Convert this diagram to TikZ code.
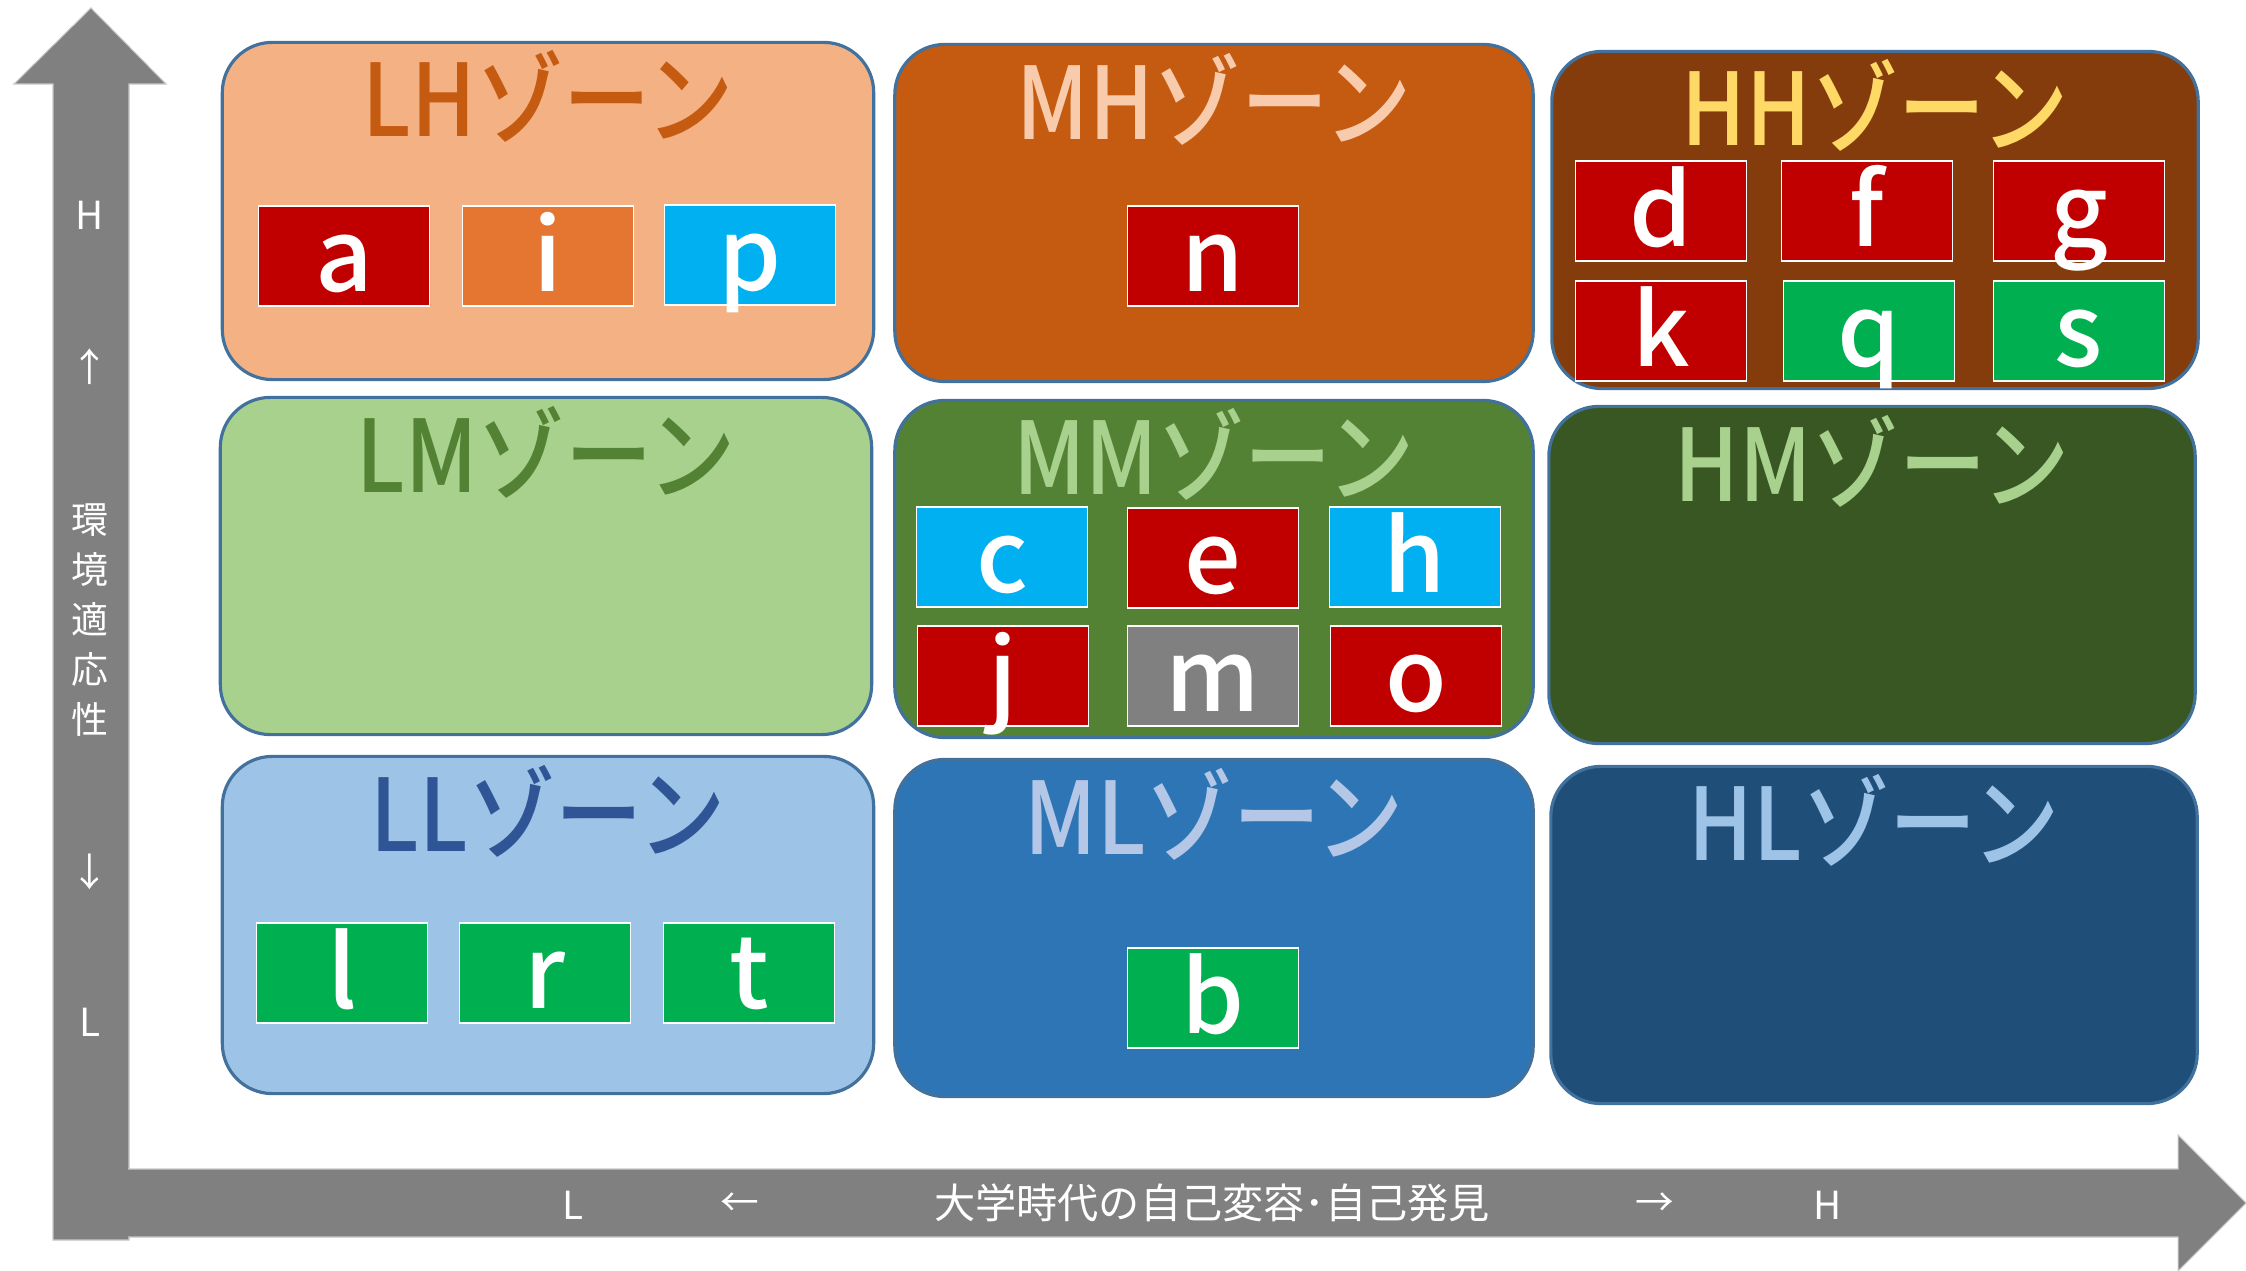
\documentclass[tikz,border=0pt]{standalone}
\usepackage{fontspec}
\setmainfont{Noto Sans CJK JP}
\newfontfamily\zonefont[FakeStretch=0.87]{Noto Sans CJK JP Medium}
\newfontfamily\itemfont{Noto Sans CJK JP Medium}
\usepackage{xcolor}
\usepackage{tikz}

\definecolor{axisgray}{HTML}{808080}
\definecolor{axisedge}{HTML}{C8C8C8}
\definecolor{zoneedge}{HTML}{41719C}
\definecolor{lhfill}{HTML}{F4B183}
\definecolor{lhtext}{HTML}{C55A11}
\definecolor{mhfill}{HTML}{C55A11}
\definecolor{mhtext}{HTML}{F8CBAD}
\definecolor{hhfill}{HTML}{843C0C}
\definecolor{hhtext}{HTML}{FFD966}
\definecolor{lmfill}{HTML}{A9D18E}
\definecolor{lmtext}{HTML}{548235}
\definecolor{mmfill}{HTML}{548235}
\definecolor{mmtext}{HTML}{A9D18E}
\definecolor{hmfill}{HTML}{385723}
\definecolor{hmtext}{HTML}{A9D18E}
\definecolor{llfill}{HTML}{9DC3E6}
\definecolor{lltext}{HTML}{2F5597}
\definecolor{mlfill}{HTML}{2E75B6}
\definecolor{mltext}{HTML}{B4C7E7}
\definecolor{hlfill}{HTML}{1F4E79}
\definecolor{hltext}{HTML}{9DC3E6}
\definecolor{itemred}{HTML}{C00000}
\definecolor{itemorange}{HTML}{E57631}
\definecolor{itemcyan}{HTML}{00B0F0}
\definecolor{itemgreen}{HTML}{00B050}
\definecolor{itemgray}{HTML}{808080}

\begin{document}
\begin{tikzpicture}[x=0.01cm, y=-0.01cm,
	zone/.style={draw=zoneedge, line width=0.9pt, rounded corners=0.5cm, minimum height=3.37cm},
	zonetitle/.style={anchor=base, inner sep=0pt, font=\zonefont\fontsize{28.5}{30}\selectfont},
	item/.style={draw=white, line width=0.5pt, minimum width=1.71cm, minimum height=1cm, inner sep=0pt,
		text height=0.85cm, text depth=0.15cm, text=white, font=\itemfont\fontsize{28.5}{30}\selectfont},
	axislabel/.style={text=white, inner sep=0pt, font=\fontsize{11}{13}\selectfont}]

\useasboundingbox (0,0) rectangle (2246,1271);

% axes
\filldraw[fill=axisgray, draw=axisedge, line width=0.3pt] (53,1240)--(53,84)--(14,84)--(91,8)--(166,84)--(129,84)--(129,1240)--cycle;
\filldraw[fill=axisgray, draw=axisedge, line width=0.3pt] (128,1169)--(2178,1169)--(2178,1135)--(2246,1203)--(2178,1271)--(2178,1237)--(128,1237);

\node[axislabel] (y-high) at (90,215) {H};
\node[axislabel] (y-up) at (90,367) {↑};
\node[axislabel, align=center, font=\fontsize{10.5}{14.2}\selectfont] (y-name) at (90,620) {環\\境\\適\\応\\性};
\node[axislabel] (y-down) at (90,872) {↓};
\node[axislabel] (y-low) at (90,1022) {L};

\node[axislabel] (x-low) at (573,1205) {L};
\node[axislabel] (x-left) at (740,1205) {←};
\node[axislabel, font=\fontsize{11.7}{13}\selectfont] (x-name) at (1212,1203) {大学時代の自己変容･自己発見};
\node[axislabel] (x-right) at (1655,1205) {→};
\node[axislabel] (x-high) at (1828,1205) {H};

% zones
\node[zone, fill=lhfill, minimum width=6.51cm] (lh) at (548,211) {};
\node[zone, fill=mhfill, minimum width=6.38cm] (mh) at (1214,213) {};
\node[zone, fill=hhfill, minimum width=6.46cm] (hh) at (1875,220) {};
\node[zone, fill=lmfill, minimum width=6.51cm] (lm) at (546,566) {};
\node[zone, fill=mmfill, minimum width=6.38cm] (mm) at (1214,569) {};
\node[zone, fill=hmfill, minimum width=6.46cm] (hm) at (1872,575) {};
\node[zone, fill=llfill, minimum width=6.51cm] (ll) at (548,925) {};
\node[zone, fill=mlfill, minimum width=6.38cm] (ml) at (1214,928) {};
\node[zone, fill=hlfill, minimum width=6.46cm] (hl) at (1874,935) {};

\node[zonetitle, text=lhtext] (lh-title) at (548,137) {LHゾーン};
\node[zonetitle, text=mhtext] (mh-title) at (1214,140) {MHゾーン};
\node[zonetitle, text=hhtext] (hh-title) at (1875,146) {HHゾーン};
\node[zonetitle, text=lmtext] (lm-title) at (546,493) {LMゾーン};
\node[zonetitle, text=mmtext] (mm-title) at (1214,495) {MMゾーン};
\node[zonetitle, text=hmtext] (hm-title) at (1872,502) {HMゾーン};
\node[zonetitle, text=lltext] (ll-title) at (548,852) {LLゾーン};
\node[zonetitle, text=mltext] (ml-title) at (1214,855) {MLゾーン};
\node[zonetitle, text=hltext] (hl-title) at (1874,861) {HLゾーン};

% members
\foreach \name/\x/\y/\col in {a/344/256/itemred, i/548/256/itemorange, p/750/255/itemcyan,
	n/1213/256/itemred,
	d/1661/211/itemred, f/1867/211/itemred, g/2079/211/itemred,
	k/1661/331/itemred, q/1869/331/itemgreen, s/2079/331/itemgreen,
	c/1002/557/itemcyan, e/1213/558/itemred, h/1415/557/itemcyan,
	j/1003/676/itemred, m/1213/676/itemgray, o/1416/676/itemred,
	l/342/973/itemgreen, r/545/973/itemgreen, t/749/973/itemgreen,
	b/1213/998/itemgreen}
	\node[item, fill=\col] (item-\name) at (\x,\y) {\name};

\end{tikzpicture}
\end{document}
